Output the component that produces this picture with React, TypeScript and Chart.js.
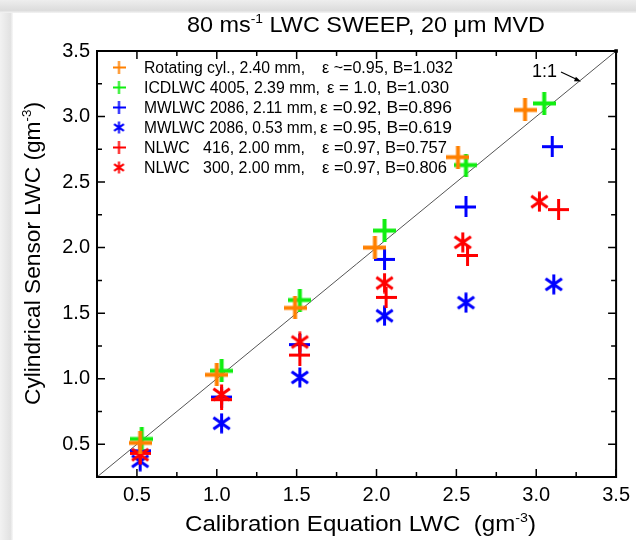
import { useEffect, useRef } from 'react';
import { Chart, registerables } from 'chart.js';

Chart.register(...registerables);

// ---------- data ----------
const rotX = [0.52, 1.0, 1.49, 1.99, 2.51, 2.93];
const rotY = [0.51, 1.03, 1.54, 2.0, 2.69, 3.05];

const icdX = [0.53, 1.03, 1.52, 2.05, 2.56, 3.05];
const icdY = [0.54, 1.06, 1.6, 2.13, 2.63, 3.1];

const mw211X = [0.52, 1.03, 1.52, 2.05, 2.56, 3.1];
const mw211Y = [0.45, 0.86, 1.26, 1.91, 2.31, 2.77];

const mw053X = [0.52, 1.03, 1.52, 2.05, 2.56, 3.11];
const mw053Y = [0.37, 0.66, 1.01, 1.48, 1.58, 1.72];

const nl416X = [0.52, 1.03, 1.52, 2.06, 2.57, 3.14];
const nl416Y = [0.43, 0.84, 1.18, 1.62, 1.94, 2.29];

const nl300X = [0.52, 1.03, 1.52, 2.05, 2.54, 3.02];
const nl300Y = [0.42, 0.88, 1.28, 1.73, 2.04, 2.35];

const oneToOneX = [0.25, 3.5];
const oneToOneY = [0.25, 3.5];

const majorTicks = [0.5, 1.0, 1.5, 2.0, 2.5, 3.0, 3.5];
const minorTicks = [0.75, 1.25, 1.75, 2.25, 2.75, 3.25];

const legendPrefixes = [
  'Rotating cyl., 2.40 mm,',
  'ICDLWC 4005, 2.39 mm,',
  'MWLWC 2086, 2.11 mm,',
  'MWLWC 2086, 0.53 mm,',
  'NLWC   416, 2.00 mm,',
  'NLWC   300, 2.00 mm,',
];
const legendSuffixes = [
  'ε ~=0.95, B=1.032',
  'ε = 1.0, B=1.030',
  'ε =0.92, B=0.896',
  'ε =0.95, B=0.619',
  'ε =0.97, B=0.757',
  'ε =0.97, B=0.806',
];

const FONT = "'Liberation Sans', Arial, sans-serif";
const ORANGE = '#ff8000';
const GREEN = '#10ee10';
const BLUE = '#0000ff';
const RED = '#ff0000';

// ---------- marker images ----------
function plusImg(size: number, lw: number, color: string) {
  const c = document.createElement('canvas');
  c.width = size;
  c.height = size;
  const g = c.getContext('2d')!;
  g.strokeStyle = color;
  g.lineWidth = lw;
  g.beginPath();
  g.moveTo(0, size / 2);
  g.lineTo(size, size / 2);
  g.moveTo(size / 2, 0);
  g.lineTo(size / 2, size);
  g.stroke();
  return c;
}

function starImg(size: number, lw: number, color: string) {
  const c = document.createElement('canvas');
  c.width = size;
  c.height = size;
  const g = c.getContext('2d')!;
  g.strokeStyle = color;
  g.lineWidth = lw;
  const r = size / 2 - 0.5;
  const cx = size / 2;
  const cy = size / 2;
  g.beginPath();
  for (const a of [90, 35, -35]) {
    const rad = (a * Math.PI) / 180;
    const dx = Math.cos(rad) * r;
    const dy = Math.sin(rad) * r;
    g.moveTo(cx - dx, cy - dy);
    g.lineTo(cx + dx, cy + dy);
  }
  g.stroke();
  return c;
}

function pts(xs: number[], ys: number[]) {
  return xs.map((x, i) => ({ x, y: ys[i] }));
}

type Seg = { t: string; sup?: boolean };

function drawRich(
  ctx: CanvasRenderingContext2D,
  segs: Seg[],
  x: number,
  y: number,
  size: number,
  targetWidth: number
) {
  const supSize = Math.round(size * 0.6);
  let w = 0;
  const widths: number[] = [];
  for (const s of segs) {
    ctx.font = `${s.sup ? supSize : size}px ${FONT}`;
    const m = ctx.measureText(s.t).width;
    widths.push(m);
    w += m;
  }
  const sx = targetWidth > 0 ? targetWidth / w : 1;
  ctx.save();
  ctx.translate(x, y);
  ctx.scale(sx, 1);
  ctx.textAlign = 'left';
  ctx.textBaseline = 'alphabetic';
  ctx.fillStyle = '#000';
  let cx = 0;
  segs.forEach((s, i) => {
    ctx.font = `${s.sup ? supSize : size}px ${FONT}`;
    ctx.fillText(s.t, cx, s.sup ? -size * 0.42 : 0);
    cx += widths[i];
  });
  ctx.restore();
}

export default function App() {
  const ref = useRef<HTMLCanvasElement>(null);

  useEffect(() => {
    if (!ref.current) return;

    const mOrange = plusImg(23, 4, ORANGE);
    const mGreen = plusImg(23, 4, GREEN);
    const mBluePlus = plusImg(21, 3, BLUE);
    const mBlueStar = starImg(21, 3, BLUE);
    const mRedPlus = plusImg(21, 3, RED);
    const mRedStar = starImg(21, 3, RED);

    const legendMarks = [
      plusImg(13, 2, ORANGE),
      plusImg(13, 2, GREEN),
      plusImg(13, 2, BLUE),
      starImg(13, 2, BLUE),
      plusImg(13, 2, RED),
      starImg(13, 2, RED),
    ];

    const decor = {
      id: 'decor',
      beforeDraw(chart: any) {
        const { ctx, width, height } = chart;
        ctx.save();
        ctx.fillStyle = '#ffffff';
        ctx.fillRect(0, 0, width, height);
        let g = ctx.createLinearGradient(0, 0, 0, 13);
        g.addColorStop(0, '#eeeeee');
        g.addColorStop(0.8, '#dcdcdc');
        g.addColorStop(1, '#f4f4f4');
        ctx.fillStyle = g;
        ctx.fillRect(0, 0, width, 13);
        g = ctx.createLinearGradient(0, 0, 13, 0);
        g.addColorStop(0, '#f2f2f2');
        g.addColorStop(0.8, '#e2e2e2');
        g.addColorStop(1, '#f8f8f8');
        ctx.fillStyle = g;
        ctx.fillRect(0, 13, 13, height - 13);
        ctx.restore();
      },
      afterDraw(chart: any) {
        const { ctx, chartArea: a } = chart;
        const xs = chart.scales.x;
        const ys = chart.scales.y;
        ctx.save();
        // frame
        ctx.strokeStyle = '#000';
        ctx.lineWidth = 2;
        ctx.strokeRect(a.left, a.top, a.right - a.left, a.bottom - a.top);
        // ticks
        ctx.lineWidth = 1.5;
        ctx.beginPath();
        const tick = (v: number, len: number) => {
          const px = xs.getPixelForValue(v);
          ctx.moveTo(px, a.bottom);
          ctx.lineTo(px, a.bottom - len);
          ctx.moveTo(px, a.top);
          ctx.lineTo(px, a.top + len);
          const py = ys.getPixelForValue(v);
          ctx.moveTo(a.left, py);
          ctx.lineTo(a.left + len, py);
          ctx.moveTo(a.right, py);
          ctx.lineTo(a.right - len, py);
        };
        majorTicks.forEach((v) => tick(v, 8));
        minorTicks.forEach((v) => tick(v, 5));
        ctx.stroke();

        // title
        drawRich(
          ctx,
          [{ t: '80 ms' }, { t: '-1', sup: true }, { t: ' LWC SWEEP, 20 μm MVD' }],
          187,
          32,
          22,
          358
        );
        // x title
        drawRich(
          ctx,
          [{ t: 'Calibration Equation LWC  (gm' }, { t: '-3', sup: true }, { t: ')' }],
          185,
          531,
          22,
          351
        );
        // y title
        ctx.save();
        ctx.translate(40, 405);
        ctx.rotate(-Math.PI / 2);
        drawRich(
          ctx,
          [{ t: 'Cylindrical Sensor LWC (gm' }, { t: '-3', sup: true }, { t: ')' }],
          0,
          0,
          22,
          303
        );
        ctx.restore();

        // legend
        const preW = [161, 176, 173, 173, 161, 161];
        const sufX = [322, 327, 320, 320, 322, 322];
        const sufW = [131, 122, 132, 132, 125, 125];
        legendPrefixes.forEach((p, i) => {
          const cy = 67.5 + i * 20;
          const m = legendMarks[i];
          ctx.drawImage(m, 119 - m.width / 2, cy - m.height / 2);
          drawRich(ctx, [{ t: p }], 144, cy + 5.5, 16, preW[i]);
          drawRich(ctx, [{ t: legendSuffixes[i] }], sufX[i], cy + 5.5, 16, sufW[i]);
        });

        // 1:1 label and arrow
        drawRich(ctx, [{ t: '1:1' }], 532, 77, 19, 25);
        ctx.strokeStyle = '#000';
        ctx.lineWidth = 1.2;
        ctx.beginPath();
        ctx.moveTo(561, 72);
        ctx.lineTo(578, 80);
        ctx.stroke();
        const ang = Math.atan2(80.5 - 72, 581 - 561);
        ctx.beginPath();
        ctx.moveTo(581, 81.5);
        ctx.lineTo(581 - 7 * Math.cos(ang - 0.35), 81.5 - 7 * Math.sin(ang - 0.35));
        ctx.lineTo(581 - 7 * Math.cos(ang + 0.35), 81.5 - 7 * Math.sin(ang + 0.35));
        ctx.closePath();
        ctx.fillStyle = '#000';
        ctx.fill();
        ctx.restore();
      },
    };

    const mk = (label: string, xs: number[], ys: number[], img: HTMLCanvasElement) => ({
      label,
      data: pts(xs, ys),
      showLine: false,
      pointStyle: img,
      pointRadius: 11,
      borderWidth: 0,
    });

    const chart = new Chart(ref.current, {
      type: 'scatter',
      data: {
        datasets: [
          mk('Rotating cyl.', rotX, rotY, mOrange),
          mk('ICDLWC 4005', icdX, icdY, mGreen),
          mk('NLWC 300', nl300X, nl300Y, mRedStar),
          mk('NLWC 416', nl416X, nl416Y, mRedPlus),
          mk('MWLWC 2086 2.11', mw211X, mw211Y, mBluePlus),
          mk('MWLWC 2086 0.53', mw053X, mw053Y, mBlueStar),
          {
            label: '1:1',
            data: pts(oneToOneX, oneToOneY),
            showLine: true,
            borderColor: '#555555',
            borderWidth: 1,
            pointStyle: 'rect',
            pointRadius: [0, 2.5],
            pointBackgroundColor: '#000',
            pointBorderWidth: 0,
            clip: false,
          } as any,
        ],
      },
      options: {
        responsive: false,
        animation: false,
        devicePixelRatio: 1,
        layout: { padding: { left: 0, right: 14, top: 51, bottom: 0 } },
        plugins: {
          legend: { display: false },
          tooltip: { enabled: false },
          title: { display: false },
        },
        scales: {
          x: {
            type: 'linear',
            min: 0.25,
            max: 3.5,
            afterBuildTicks: (s: any) => {
              s.ticks = majorTicks.map((v) => ({ value: v }));
            },
            afterFit: (s: any) => {
              s.height = 63;
            },
            ticks: {
              callback: (v: any) => Number(v).toFixed(1),
              font: { family: FONT, size: 20 },
              color: '#000',
              padding: 6,
              maxRotation: 0,
              autoSkip: false,
            },
            grid: { display: false, drawTicks: false },
            border: { display: false },
          },
          y: {
            type: 'linear',
            min: 0.25,
            max: 3.5,
            afterBuildTicks: (s: any) => {
              s.ticks = majorTicks.map((v) => ({ value: v }));
            },
            afterFit: (s: any) => {
              s.width = 97;
            },
            ticks: {
              callback: (v: any) => Number(v).toFixed(1),
              font: { family: FONT, size: 20 },
              color: '#000',
              padding: 7,
              autoSkip: false,
            },
            grid: { display: false, drawTicks: false },
            border: { display: false },
          },
        },
      },
      plugins: [decor],
    } as any);

    return () => chart.destroy();
  }, []);

  return (
    <div style={{ position: 'absolute', left: 0, top: 0, width: 636, height: 540 }}>
      <canvas ref={ref} width={636} height={540} style={{ display: 'block' }} />
    </div>
  );
}
